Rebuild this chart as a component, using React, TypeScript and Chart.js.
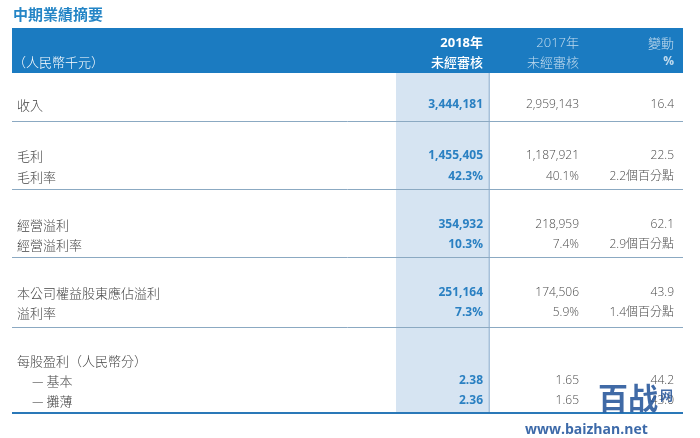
import React, { useEffect, useRef } from "react";
import { Chart, registerables } from "chart.js";

Chart.register(...registerables);

// ---------- data ----------
const TITLE = "中期業績摘要";
const UNIT_LABEL = "（人民幣千元）";
const HEADER_2018 = ["2018年", "未經審核"];
const HEADER_2017 = ["2017年", "未經審核"];
const HEADER_CHANGE = ["變動", "%"];

const rowLabels = [
  "收入",
  "毛利",
  "毛利率",
  "經營溢利",
  "經營溢利率",
  "本公司權益股東應佔溢利",
  "溢利率",
  "每股盈利（人民幣分）",
  "— 基本",
  "— 攤薄",
];
const values2018 = ["3,444,181", "1,455,405", "42.3%", "354,932", "10.3%", "251,164", "7.3%", "", "2.38", "2.36"];
const values2017 = ["2,959,143", "1,187,921", "40.1%", "218,959", "7.4%", "174,506", "5.9%", "", "1.65", "1.65"];
const changes = ["16.4", "22.5", "2.2個百分點", "62.1", "2.9個百分點", "43.9", "1.4個百分點", "", "44.2", "43.0"];

const WATERMARK = "www.baizhan.net";
const WATERMARK_LOGO = "百战网";

// ---------- layout (scale units) ----------
const W = 700;
const H = 438;
const LAYOUT = {
  tableLeft: 12,
  tableRight: 683,
  titleX: 13,
  titleY: 14,
  bandTop: 28,
  bandBottom: 73,
  headY: [43, 62],
  labelX: 17,
  indentX: 32,
  unitX: 13,
  col2018Left: 396,
  col2018Right: 490,
  col2018X: 483,
  col2017X: 579,
  colChangeX: 674,
  rowY: [105, 156, 177, 225, 245, 293, 313, 361, 381, 401],
  indented: [false, false, false, false, false, false, false, false, true, true],
  thinLines: [121, 189, 257, 327],
  bottomLine: 413,
};

const CJK = '"Noto Sans CJK TC", "Noto Sans CJK SC", sans-serif';
const NUM = '"Open Sans", "Noto Sans CJK TC", sans-serif';

const tablePlugin = {
  id: "tablePlugin",
  beforeDatasetsDraw(chart: any) {
    const ctx = chart.ctx as CanvasRenderingContext2D;
    const xs = chart.scales.x;
    const ys = chart.scales.y;
    const px = (v: number) => xs.getPixelForValue(v);
    const py = (v: number) => ys.getPixelForValue(v);
    const L = LAYOUT;

    ctx.save();
    ctx.fillStyle = "#ffffff";
    ctx.fillRect(0, 0, chart.width, chart.height);

    // header band
    ctx.fillStyle = "#1b7bc1";
    ctx.fillRect(px(L.tableLeft), py(L.bandTop), px(L.tableRight) - px(L.tableLeft), py(L.bandBottom) - py(L.bandTop));

    // highlighted 2018 column
    ctx.fillStyle = "#d6e4f2";
    ctx.fillRect(px(L.col2018Left), py(L.bandBottom), px(L.col2018Right) - px(L.col2018Left), py(L.bottomLine) - py(L.bandBottom));
    ctx.fillStyle = "#a8c1da";
    ctx.fillRect(px(L.col2018Right) - 1.5, py(L.bandBottom), 1.5, py(L.bottomLine) - py(L.bandBottom));

    // separator lines
    ctx.strokeStyle = "#8ba9c2";
    ctx.lineWidth = 1;
    L.thinLines.forEach((y) => {
      const yy = Math.round(py(y)) + 0.5;
      ctx.beginPath();
      ctx.moveTo(px(L.tableLeft), yy);
      ctx.lineTo(px(L.tableRight), yy);
      ctx.stroke();
    });
    ctx.strokeStyle = "#2a78b8";
    ctx.lineWidth = 2.2;
    ctx.beginPath();
    ctx.moveTo(px(L.tableLeft), py(L.bottomLine));
    ctx.lineTo(px(L.tableRight), py(L.bottomLine));
    ctx.stroke();

    // title
    ctx.textBaseline = "middle";
    ctx.textAlign = "left";
    ctx.fillStyle = "#2485c6";
    ctx.font = `bold 15px ${CJK}`;
    ctx.fillText(TITLE, px(L.titleX), py(L.titleY));

    // header texts
    ctx.font = `300 13px ${CJK}`;
    ctx.fillStyle = "#ffffff";
    ctx.fillText(UNIT_LABEL, px(L.unitX), py(L.headY[1]));

    ctx.textAlign = "right";
    ctx.fillStyle = "#ffffff";
    ctx.font = `bold 13px ${NUM}`;
    ctx.fillText(HEADER_2018[0], px(L.col2018X), py(L.headY[0]));
    ctx.font = `500 13px ${CJK}`;
    ctx.fillText(HEADER_2018[1], px(L.col2018X), py(L.headY[1]));

    ctx.fillStyle = "rgba(255,255,255,0.72)";
    ctx.font = `300 13px ${NUM}`;
    ctx.fillText(HEADER_2017[0], px(L.col2017X), py(L.headY[0]));
    ctx.font = `300 13px ${CJK}`;
    ctx.fillText(HEADER_2017[1], px(L.col2017X), py(L.headY[1]));

    ctx.font = `300 13px ${CJK}`;
    ctx.fillText(HEADER_CHANGE[0], px(L.colChangeX), py(L.headY[0]));
    ctx.font = `bold 12px ${NUM}`;
    ctx.fillText(HEADER_CHANGE[1], px(L.colChangeX), py(L.headY[1]));

    // rows
    rowLabels.forEach((label, i) => {
      const y = py(L.rowY[i]);
      ctx.textAlign = "left";
      ctx.fillStyle = "#444444";
      ctx.font = `300 13px ${CJK}`;
      ctx.fillText(label, px(L.indented[i] ? L.indentX : L.labelX), y);

      ctx.textAlign = "right";
      ctx.fillStyle = "#2a80c2";
      ctx.font = `bold 12px ${NUM}`;
      ctx.fillText(values2018[i], px(L.col2018X), y);

      ctx.fillStyle = "#4a4a4a";
      ctx.font = `300 12px ${NUM}`;
      ctx.fillText(values2017[i], px(L.col2017X), y);
      ctx.fillText(changes[i], px(L.colChangeX), y);
    });

    // watermark
    ctx.textAlign = "left";
    ctx.fillStyle = "rgba(30,80,150,0.85)";
    ctx.font = `bold 30px ${CJK}`;
    ctx.fillText(WATERMARK_LOGO.slice(0, 2), px(598), py(398));
    ctx.font = `bold 13px ${CJK}`;
    ctx.fillText(WATERMARK_LOGO.slice(2), px(660), py(395));
    ctx.font = `bold 14px ${NUM}`;
    ctx.fillStyle = "rgba(40,90,160,0.9)";
    ctx.fillText(WATERMARK, px(525), py(430));
    ctx.restore();
  },
};

export default function App() {
  const ref = useRef<HTMLCanvasElement | null>(null);
  useEffect(() => {
    if (!ref.current) return;
    const chart = new Chart(ref.current, {
      type: "scatter",
      data: { datasets: [{ data: [], pointRadius: 0 }] },
      options: {
        animation: false,
        responsive: false,
        maintainAspectRatio: false,
        layout: { padding: 0 },
        plugins: { legend: { display: false }, tooltip: { enabled: false } },
        scales: {
          x: { type: "linear", min: 0, max: W, display: false },
          y: { type: "linear", min: 0, max: H, reverse: true, display: false },
        },
      },
      plugins: [tablePlugin],
    });
    return () => chart.destroy();
  }, []);
  return (
    <div style={{ position: "fixed", left: 0, top: 0, width: W, height: H, background: "#fff" }}>
      <canvas ref={ref} width={W} height={H} style={{ width: W, height: H, display: "block" }} />
    </div>
  );
}
